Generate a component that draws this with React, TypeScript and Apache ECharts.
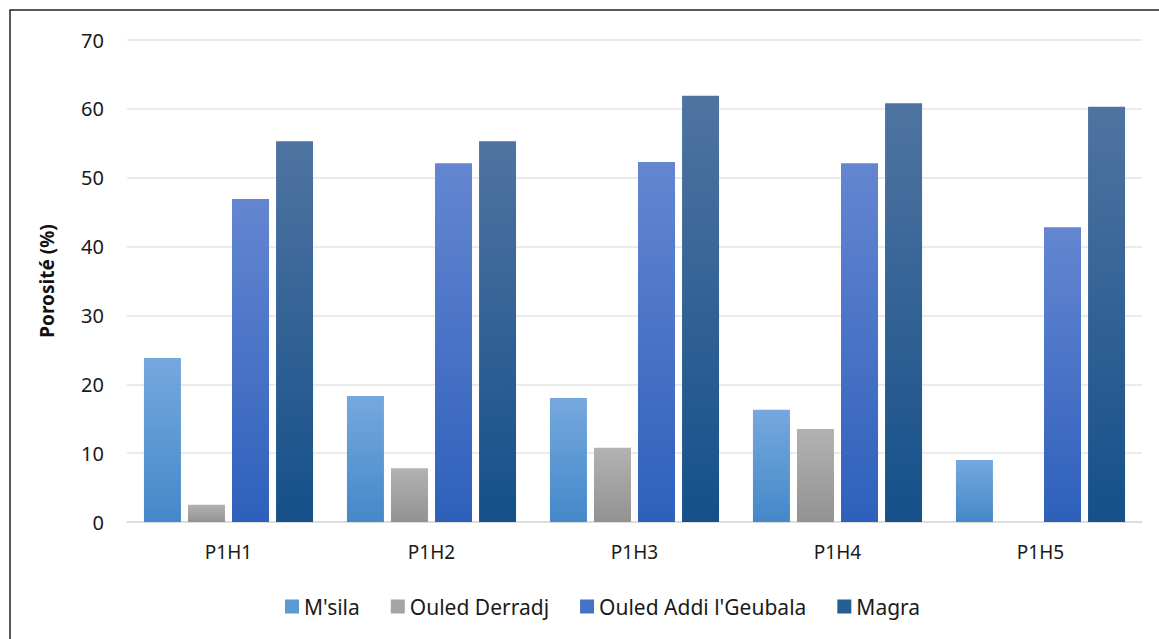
import React, { useEffect, useRef } from "react";
import * as echarts from "echarts";

const categories = ["P1H1", "P1H2", "P1H3", "P1H4", "P1H5"];
const msila = [23.8, 18.3, 18.0, 16.3, 9.0];
const ouledDerradj = [2.5, 7.8, 10.8, 13.5, null];
const ouledAddi = [46.9, 52.1, 52.3, 52.1, 42.8];
const magra = [55.3, 55.3, 61.9, 60.8, 60.3];
const seriesNames = ["M'sila", "Ouled Derradj", "Ouled Addi l'Geubala", "Magra"];

const FONT = "Noto Sans";

function grad(top: string, bottom: string) {
  return new echarts.graphic.LinearGradient(0, 0, 0, 1, [
    { offset: 0, color: top },
    { offset: 1, color: bottom },
  ]);
}

export default function App() {
  const ref = useRef<HTMLDivElement>(null);
  useEffect(() => {
    if (!ref.current) return;
    const chart = echarts.init(ref.current, undefined, { renderer: "svg" });
    const fills = [
      grad("#76a8de", "#4488c9"),
      grad("#b2b2b2", "#929292"),
      grad("#6486d1", "#2e60bb"),
      grad("#4f74a1", "#155089"),
    ];
    const legendColors = ["#5b9bd5", "#a5a5a5", "#4472c4", "#255e91"];
    const datas = [msila, ouledDerradj, ouledAddi, magra];
    chart.setOption({
      animation: false,
      backgroundColor: "#ffffff",
      grid: { left: 127, right: 17, top: 40, bottom: 117 },
      legend: {
        left: 280,
        top: 591,
        itemWidth: 14,
        itemHeight: 14,
        itemGap: 31,
        icon: "rect",
        textStyle: { fontFamily: FONT, fontSize: 21, color: "#1a1a1a" },
        data: seriesNames.map((n, i) => ({ name: n, itemStyle: { color: legendColors[i] } })),
      },
      xAxis: {
        type: "category",
        data: categories,
        axisLine: { lineStyle: { color: "#d9d9d9", width: 1.5 } },
        axisTick: { show: false },
        axisLabel: { fontFamily: FONT, fontSize: 19, color: "#1a1a1a", margin: 20 },
      },
      yAxis: {
        type: "value",
        min: 0,
        max: 70,
        interval: 10,
        name: "Porosité (%)",
        nameLocation: "middle",
        nameGap: 71,
        nameTextStyle: { fontFamily: FONT, fontSize: 19, fontWeight: "bold", color: "#111" },
        axisLine: { show: false },
        axisTick: { show: false },
        axisLabel: { fontFamily: FONT, fontSize: 20, color: "#1a1a1a", margin: 23 },
        splitLine: { lineStyle: { color: "#e2e5ea", width: 1.5 } },
      },
      series: datas.map((d, i) => ({
        name: seriesNames[i],
        type: "bar",
        data: d,
        barGap: "19%",
        barCategoryGap: "16.7%",
        itemStyle: { color: fills[i] },
      })),
      graphic: [
        {
          type: "rect",
          shape: { x: 10, y: 10, width: 1200, height: 700 },
          style: { fill: "none", stroke: "#222", lineWidth: 1.5 },
          silent: true,
        },
      ],
    });
    return () => chart.dispose();
  }, []);
  return (
    <div
      ref={ref}
      style={{ position: "fixed", left: 0, top: 0, width: 1159, height: 639 }}
    />
  );
}
